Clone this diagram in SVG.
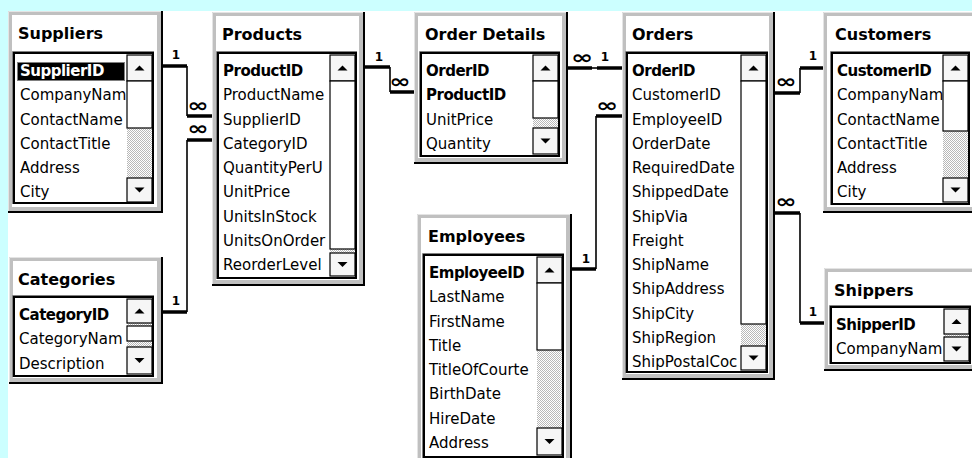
<svg xmlns="http://www.w3.org/2000/svg" width="972" height="458" viewBox="0 0 972 458">
<style>
.frame{fill:#c0c0c0}
.inner{fill:#fff}
.edge{stroke:#000;stroke-width:2;fill:none}
.hl{stroke:#e4e4e4;stroke-width:1;fill:none}
.lb{fill:#fff;stroke:#000;stroke-width:2}
.lbo{stroke:#808080;stroke-width:1;fill:none}
.title{font-family:"DejaVu Sans",sans-serif;font-weight:bold;font-size:16px;fill:#000}
.f{font-family:"DejaVu Sans",sans-serif;font-size:15px;fill:#000}
.pk{font-family:"DejaVu Sans",sans-serif;font-weight:bold;font-size:15px;letter-spacing:-0.5px;fill:#000}
.btn{fill:#f6f6f6;stroke:#000;stroke-width:1.2}
.thumb{fill:#fff;stroke:#000;stroke-width:1.2}
.track{fill:url(#dither)}
.arr{fill:#000}
.thick{stroke:#000;stroke-width:3.5;fill:none}
.thin{stroke:#000;stroke-width:1.6;fill:none}
.one{font-family:"DejaVu Sans",sans-serif;font-weight:bold;font-size:12px;text-anchor:middle;fill:#000}
.inf{font-family:"DejaVu Sans",sans-serif;font-weight:bold;font-size:19px;text-anchor:middle;fill:#000}
</style>
<defs>
<pattern id="dither" width="2" height="2" patternUnits="userSpaceOnUse">
<rect width="2" height="2" fill="#fff"/>
<rect width="1" height="1" fill="#b8b8b8"/>
<rect x="1" y="1" width="1" height="1" fill="#b8b8b8"/>
</pattern>
</defs>
<rect width="972" height="458" fill="#ccffff"/>
<rect x="8" y="11" width="964" height="447" fill="#fff"/>

<g id="connectors">
<path class="thick" d="M162 66H187"/><path class="thin" d="M187 66V116"/><path class="thick" d="M187 116H212"/>
<text class="one" x="176" y="59">1</text><text class="inf" transform="translate(198 112) scale(1.35 1)">∞</text>
<path class="thick" d="M162 312H187"/><path class="thin" d="M187 312V140"/><path class="thick" d="M187 140H212"/>
<text class="one" x="176" y="305">1</text><text class="inf" transform="translate(198 135) scale(1.35 1)">∞</text>
<path class="thick" d="M364 67H390"/><path class="thin" d="M390 67V92"/><path class="thick" d="M390 92H414"/>
<text class="one" x="379" y="61">1</text><text class="inf" transform="translate(400 88) scale(1.35 1)">∞</text>
<path class="thick" d="M567 68H592"/><path class="thin" d="M592 68H597"/><path class="thick" d="M597 68H622"/>
<text class="inf" transform="translate(582 64) scale(1.4 1)">∞</text><text class="one" x="605" y="61">1</text>
<path class="thick" d="M571 269H596"/><path class="thin" d="M596 269V116"/><path class="thick" d="M596 116H622"/>
<text class="one" x="586" y="263">1</text><text class="inf" transform="translate(607 112) scale(1.4 1)">∞</text>
<path class="thick" d="M774 93H800"/><path class="thin" d="M800 93V68"/><path class="thick" d="M800 68H823"/>
<text class="inf" transform="translate(786 88) scale(1.35 1)">∞</text><text class="one" x="813" y="60">1</text>
<path class="thick" d="M774 213H800"/><path class="thin" d="M800 213V323"/><path class="thick" d="M800 323H824"/>
<text class="inf" transform="translate(786 208) scale(1.35 1)">∞</text><text class="one" x="813" y="316">1</text>
</g>

<g id="suppliers">
<rect class="frame" x="8" y="11" width="154" height="201"/>
<rect class="inner" x="12" y="15" width="145" height="192"/>
<path class="hl" d="M8.5 212V11.5H162"/>
<path class="edge" d="M162 11V212H8"/>
<text class="title" x="18" y="39">Suppliers</text>
<path class="lbo" d="M12.5 204V51.5H154"/>
<rect class="lb" x="14" y="53" width="139" height="150"/>
<rect x="17" y="62" width="108" height="19" fill="#000"/>
<rect x="17.5" y="62.5" width="107" height="18" fill="none" stroke="#fff" stroke-width="1" stroke-dasharray="1 1"/>
<text class="pk" x="20" y="76" style="fill:#fff">SupplierID</text>
<text class="f" x="20" y="100.25">CompanyNam</text>
<text class="f" x="20" y="124.5">ContactName</text>
<text class="f" x="20" y="148.75">ContactTitle</text>
<text class="f" x="20" y="173">Address</text>
<text class="f" x="20" y="197.25">City</text>
<rect class="track" x="127" y="81" width="25" height="97"/>
<rect class="btn" x="127" y="55" width="25" height="26"/>
<rect class="thumb" x="127" y="81" width="25" height="47"/>
<rect class="btn" x="127" y="178" width="25" height="24"/>
<path class="arr" d="M134.5 70.5H144.5L139.5 65.5Z"/>
<path class="arr" d="M134.5 187.5H144.5L139.5 192.5Z"/>
</g>

<g id="products">
<rect class="frame" x="212" y="12" width="152" height="273"/>
<rect class="inner" x="216" y="16" width="143" height="264"/>
<path class="hl" d="M212.5 285V12.5H364"/>
<path class="edge" d="M364 12V285H212"/>
<text class="title" x="222" y="40">Products</text>
<path class="lbo" d="M216.5 279V51.5H357"/>
<rect class="lb" x="218" y="53" width="138" height="225"/>
<text class="pk" x="223" y="76">ProductID</text>
<text class="f" x="223" y="100.25">ProductName</text>
<text class="f" x="223" y="124.5">SupplierID</text>
<text class="f" x="223" y="148.75">CategoryID</text>
<text class="f" x="223" y="173">QuantityPerU</text>
<text class="f" x="223" y="197.25">UnitPrice</text>
<text class="f" x="223" y="221.5">UnitsInStock</text>
<text class="f" x="223" y="245.75">UnitsOnOrder</text>
<text class="f" x="223" y="270">ReorderLevel</text>
<rect class="track" x="330" y="81" width="25" height="172"/>
<rect class="btn" x="330" y="55" width="25" height="26"/>
<rect class="thumb" x="330" y="81" width="25" height="168"/>
<rect class="btn" x="330" y="253" width="25" height="23"/>
<path class="arr" d="M337.5 70.5H347.5L342.5 65.5Z"/>
<path class="arr" d="M337.5 262H347.5L342.5 267Z"/>
</g>

<g id="order-details">
<rect class="frame" x="414" y="12" width="153" height="151"/>
<rect class="inner" x="418" y="16" width="144" height="142"/>
<path class="hl" d="M414.5 163V12.5H567"/>
<path class="edge" d="M567 12V163H414"/>
<text class="title" x="425" y="40">Order Details</text>
<path class="lbo" d="M419.5 157V51.5H560"/>
<rect class="lb" x="421" y="53" width="138" height="103"/>
<text class="pk" x="426" y="76">OrderID</text>
<text class="pk" x="426" y="100.25">ProductID</text>
<text class="f" x="426" y="124.5">UnitPrice</text>
<text class="f" x="426" y="148.75">Quantity</text>
<rect class="track" x="533" y="81" width="25" height="47"/>
<rect class="btn" x="533" y="55" width="25" height="26"/>
<rect class="thumb" x="533" y="81" width="25" height="37"/>
<rect class="btn" x="533" y="128" width="25" height="26"/>
<path class="arr" d="M540.5 70.5H550.5L545.5 65.5Z"/>
<path class="arr" d="M540.5 138.5H550.5L545.5 143.5Z"/>
</g>

<g id="orders">
<rect class="frame" x="622" y="12" width="152" height="367"/>
<rect class="inner" x="626" y="16" width="143" height="358"/>
<path class="hl" d="M622.5 379V12.5H774"/>
<path class="edge" d="M774 12V379H622"/>
<text class="title" x="632" y="40">Orders</text>
<path class="lbo" d="M625.5 373V51.5H768"/>
<rect class="lb" x="627" y="53" width="140" height="319"/>
<text class="pk" x="632" y="76">OrderID</text>
<text class="f" x="632" y="100.25">CustomerID</text>
<text class="f" x="632" y="124.5">EmployeeID</text>
<text class="f" x="632" y="148.75">OrderDate</text>
<text class="f" x="632" y="173">RequiredDate</text>
<text class="f" x="632" y="197.25">ShippedDate</text>
<text class="f" x="632" y="221.5">ShipVia</text>
<text class="f" x="632" y="245.75">Freight</text>
<text class="f" x="632" y="270">ShipName</text>
<text class="f" x="632" y="294.25">ShipAddress</text>
<text class="f" x="632" y="318.5">ShipCity</text>
<text class="f" x="632" y="342.75">ShipRegion</text>
<text class="f" x="632" y="367">ShipPostalCoc</text>
<rect class="track" x="741" y="81" width="25" height="265"/>
<rect class="btn" x="741" y="55" width="25" height="26"/>
<rect class="thumb" x="741" y="81" width="25" height="243"/>
<rect class="btn" x="741" y="346" width="25" height="24"/>
<path class="arr" d="M748.5 70.5H758.5L753.5 65.5Z"/>
<path class="arr" d="M748.5 355.5H758.5L753.5 360.5Z"/>
</g>

<g id="customers">
<rect class="frame" x="823" y="12" width="160" height="200"/>
<rect class="inner" x="827" y="16" width="150" height="191"/>
<path class="hl" d="M823.5 212V12.5H983"/>
<path class="edge" d="M983 212H823"/>
<text class="title" x="835" y="40">Customers</text>
<path class="lbo" d="M830.5 205V51.5H970"/>
<rect class="lb" x="832" y="53" width="137" height="151"/>
<text class="pk" x="837" y="76">CustomerID</text>
<text class="f" x="837" y="100.25">CompanyNam</text>
<text class="f" x="837" y="124.5">ContactName</text>
<text class="f" x="837" y="148.75">ContactTitle</text>
<text class="f" x="837" y="173">Address</text>
<text class="f" x="837" y="197.25">City</text>
<rect class="track" x="943" y="81" width="25" height="97"/>
<rect class="btn" x="943" y="55" width="25" height="26"/>
<rect class="thumb" x="943" y="81" width="25" height="50"/>
<rect class="btn" x="943" y="178" width="25" height="24"/>
<path class="arr" d="M950.5 70.5H960.5L955.5 65.5Z"/>
<path class="arr" d="M950.5 187.5H960.5L955.5 192.5Z"/>
</g>

<g id="categories">
<rect class="frame" x="9" y="257" width="153" height="126"/>
<rect class="inner" x="13" y="261" width="144" height="117"/>
<path class="hl" d="M9.5 383V257.5H162"/>
<path class="edge" d="M162 257V383H9"/>
<text class="title" x="18" y="285">Categories</text>
<path class="lbo" d="M12.5 377V295.5H154"/>
<rect class="lb" x="14" y="297" width="139" height="79"/>
<text class="pk" x="19" y="320">CategoryID</text>
<text class="f" x="19" y="344.25">CategoryNam</text>
<text class="f" x="19" y="368.5">Description</text>
<rect class="track" x="127" y="323" width="25" height="24"/>
<rect class="btn" x="127" y="299" width="25" height="24"/>
<rect class="thumb" x="127" y="326" width="25" height="15"/>
<rect class="btn" x="127" y="347" width="25" height="27"/>
<path class="arr" d="M134.5 313.5H144.5L139.5 308.5Z"/>
<path class="arr" d="M134.5 358H144.5L139.5 363Z"/>
</g>

<g id="employees">
<rect class="frame" x="417" y="214" width="154" height="252"/>
<rect class="inner" x="421" y="218" width="145" height="244"/>
<path class="hl" d="M417.5 466V214.5H571"/>
<path class="edge" d="M571 214V466"/>
<text class="title" x="428" y="242">Employees</text>
<path class="lbo" d="M422.5 460V253.5H564"/>
<rect class="lb" x="424" y="255" width="139" height="202"/>
<text class="pk" x="429" y="278">EmployeeID</text>
<text class="f" x="429" y="302.25">LastName</text>
<text class="f" x="429" y="326.5">FirstName</text>
<text class="f" x="429" y="350.75">Title</text>
<text class="f" x="429" y="375">TitleOfCourte</text>
<text class="f" x="429" y="399.25">BirthDate</text>
<text class="f" x="429" y="423.5">HireDate</text>
<text class="f" x="429" y="447.75">Address</text>
<rect class="track" x="537" y="283" width="25" height="145"/>
<rect class="btn" x="537" y="257" width="25" height="26"/>
<rect class="thumb" x="537" y="283" width="25" height="67"/>
<rect class="btn" x="537" y="428" width="25" height="27"/>
<path class="arr" d="M544.5 272.5H554.5L549.5 267.5Z"/>
<path class="arr" d="M544.5 439H554.5L549.5 444Z"/>
</g>

<g id="shippers">
<rect class="frame" x="824" y="268" width="160" height="102"/>
<rect class="inner" x="828" y="272" width="150" height="93"/>
<path class="hl" d="M824.5 370V268.5H984"/>
<path class="edge" d="M984 370H824"/>
<text class="title" x="834" y="296">Shippers</text>
<path class="lbo" d="M829.5 364V305.5H971"/>
<rect class="lb" x="831" y="307" width="139" height="56"/>
<text class="pk" x="836" y="330">ShipperID</text>
<text class="f" x="836" y="354.25">CompanyNam</text>
<rect class="track" x="944" y="334" width="25" height="3"/>
<rect class="btn" x="944" y="309" width="25" height="25"/>
<rect class="btn" x="944" y="337" width="25" height="24"/>
<path class="arr" d="M951.5 324H961.5L956.5 319Z"/>
<path class="arr" d="M951.5 346.5H961.5L956.5 351.5Z"/>
</g>
</svg>
